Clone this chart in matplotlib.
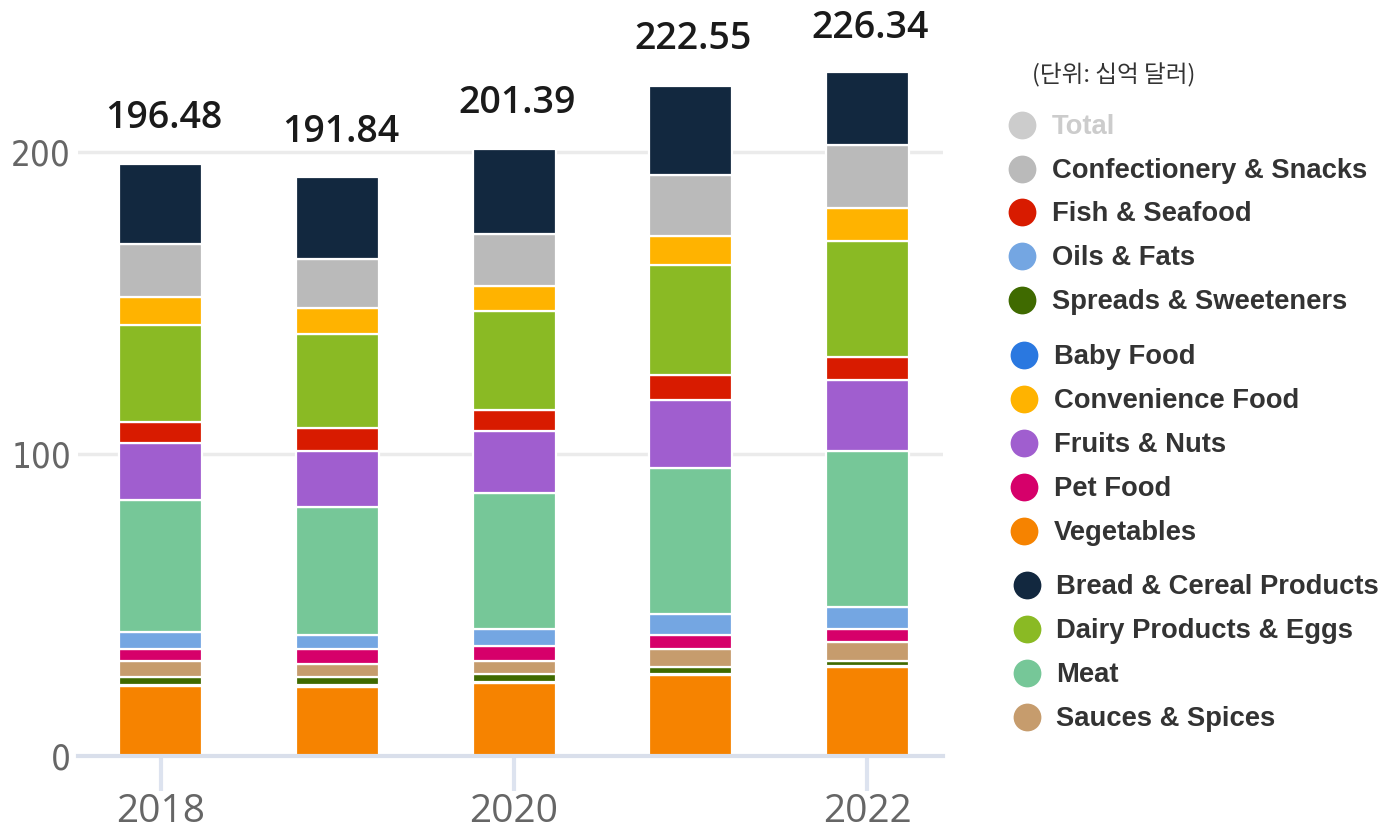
import matplotlib
matplotlib.use("Agg")
import matplotlib.pyplot as plt
from matplotlib.lines import Line2D
import numpy as np

years = [2018, 2019, 2020, 2021, 2022]
totals = [196.48, 191.84, 201.39, 222.55, 226.34]

# stacked from bottom to top
vegetables    = [23.0, 22.8, 23.9, 26.7, 29.2]
baby_food     = [0.4, 0.4, 0.4, 0.4, 0.4]
spreads       = [2.5, 2.7, 2.8, 2.2, 1.6]
sauces        = [5.3, 4.3, 4.1, 6.0, 6.4]
pet_food      = [4.2, 5.1, 5.2, 4.7, 4.3]
oils          = [5.5, 4.6, 5.6, 6.8, 7.4]
meat          = [43.9, 42.3, 45.0, 48.6, 51.7]
fruits        = [18.8, 18.8, 20.4, 22.5, 23.3]
fish          = [6.9, 7.6, 7.0, 8.1, 7.8]
dairy         = [32.1, 31.1, 32.8, 36.4, 38.5]
convenience   = [9.3, 8.6, 8.4, 9.6, 10.7]
confectionery = [17.5, 16.2, 17.3, 20.3, 21.1]
bread         = [26.6, 27.2, 28.1, 29.7, 24.1]

stack_series = [
    ("Vegetables", vegetables, "#f68300"),
    ("Baby Food", baby_food, "#2a78e0"),
    ("Spreads & Sweeteners", spreads, "#3f6a00"),
    ("Sauces & Spices", sauces, "#c69c6d"),
    ("Pet Food", pet_food, "#d6006a"),
    ("Oils & Fats", oils, "#74a6e2"),
    ("Meat", meat, "#76c798"),
    ("Fruits & Nuts", fruits, "#a05ecf"),
    ("Fish & Seafood", fish, "#d81b00"),
    ("Dairy Products & Eggs", dairy, "#8aba24"),
    ("Convenience Food", convenience, "#ffb300"),
    ("Confectionery & Snacks", confectionery, "#bababa"),
    ("Bread & Cereal Products", bread, "#12283f"),
]
colors = {n: c for n, _, c in stack_series}

legend_groups = [
    ["Total", "Confectionery & Snacks", "Fish & Seafood", "Oils & Fats", "Spreads & Sweeteners"],
    ["Baby Food", "Convenience Food", "Fruits & Nuts", "Pet Food", "Vegetables"],
    ["Bread & Cereal Products", "Dairy Products & Eggs", "Meat", "Sauces & Spices"],
]
legend_title = "(단위: 십억 달러)"

W, H = 1384, 830
fig = plt.figure(figsize=(W / 100, H / 100), dpi=100)
ax = fig.add_axes([78 / W, (H - 755.5) / H, (943 - 78) / W, 754.4 / H])

x = np.array(years, dtype=float)
bottom = np.zeros(len(years))
for name, vals, col in stack_series:
    v = np.array(vals)
    ax.bar(x, v, bottom=bottom, width=0.47, color=col, edgecolor="white",
           linewidth=1.6, zorder=3)
    bottom += v

for xi, t in zip(x, totals):
    ax.annotate(f"{t:.2f}", xy=(xi, t), xytext=(2, 32), textcoords="offset points",
                ha="center", va="center", fontsize=27, family="Open Sans",
                fontweight="semibold", color="#1a1a1a", zorder=5)

ax.set_xlim(2017.53, 2022.43)
ax.set_ylim(0, 250)
ax.set_yticks([0, 100, 200])
ax.set_xticks([2018, 2020, 2022])
ax.set_xticklabels(["2018", "2020", "2022"], family="Open Sans", fontsize=28, color="#666666")
ax.set_yticklabels(["0", "100", "200"], family="DejaVu Sans", fontstretch="condensed",
                   fontsize=25, color="#666666")
ax.tick_params(axis="y", length=0, pad=5)
ax.tick_params(axis="x", length=25, width=3, color="#dde3ef", pad=2)
for s in ["top", "right", "left"]:
    ax.spines[s].set_visible(False)
ax.spines["bottom"].set_color("#d9dfeb")
ax.spines["bottom"].set_linewidth(3)
ax.spines["bottom"].set_zorder(4)
ax.yaxis.grid(True, color="#ebebeb", linewidth=2.5, zorder=0)
ax.set_axisbelow(True)

# legend
fig.text(1032 / W, 1 - 75 / H, legend_title, family=["Noto Sans CJK KR", "DejaVu Sans"],
         fontsize=17, color="#333333", ha="left", va="center")
group_y = [[127, 171, 214, 258, 302], [357, 401, 445, 489, 533], [587, 631, 675, 719]]
group_cx = [1022, 1024, 1027]
group_tx = [1052, 1054, 1056]
for g, names in enumerate(legend_groups):
    for name, yy in zip(names, group_y[g]):
        if name == "Total":
            mc, tc = "#cccccc", "#cccccc"
        else:
            mc, tc = colors[name], "#333333"
        fig.add_artist(Line2D([group_cx[g] / W], [1 - (yy - 2) / H], marker="o",
                              markersize=20, color=mc, markeredgewidth=0,
                              linestyle="none", transform=fig.transFigure))
        fig.text(group_tx[g] / W, 1 - yy / H, name, family="Liberation Sans",
                 fontweight="bold", fontsize=19.7, color=tc, ha="left", va="center")

fig.savefig("out.png", dpi=100, facecolor="white")
